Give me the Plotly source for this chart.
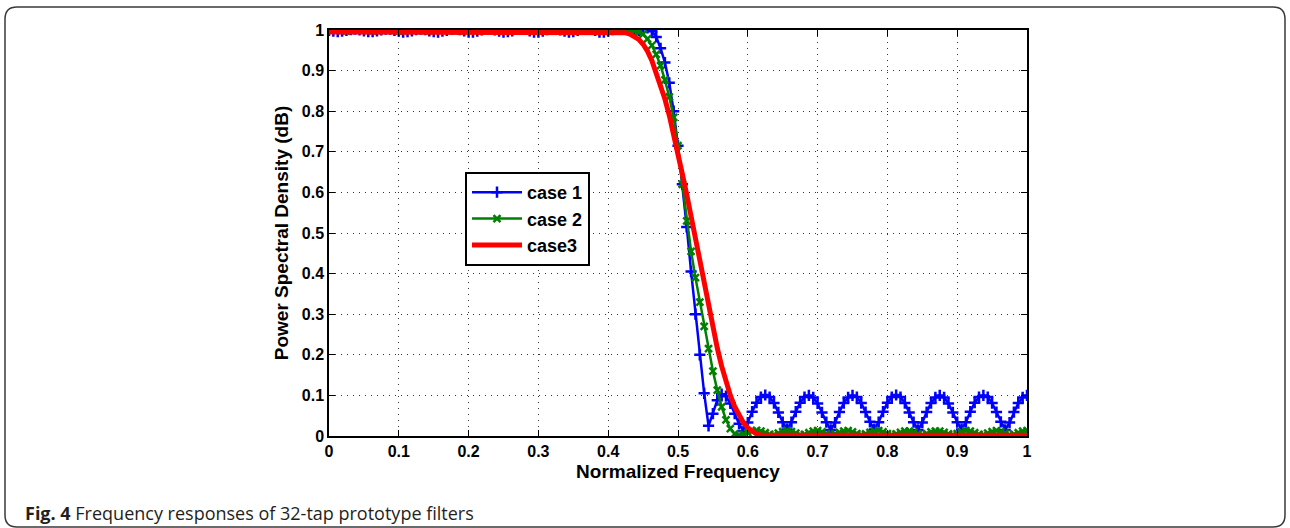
import plotly.graph_objects as go

# ---------------- data ----------------
N_SAMPLES = 161
FREQ = [i / (N_SAMPLES - 1) for i in range(N_SAMPLES)]  # normalized frequency sampling grid

CASE1 = [
    0.999, 0.997, 0.996, 0.997, 0.999, 1.001, 1.002, 1.000, 0.998, 0.996,
    0.996, 0.998, 1.000, 1.002, 1.002, 0.999, 0.997, 0.995, 0.996, 0.998,
    1.001, 1.002, 1.001, 0.998, 0.996, 0.995, 0.997, 0.999, 1.002, 1.003,
    1.001, 0.998, 0.995, 0.995, 0.997, 1.000, 1.003, 1.003, 1.000, 0.997,
    0.995, 0.996, 0.998, 1.002, 1.003, 1.002, 0.998, 0.995, 0.995, 0.997,
    1.001, 1.003, 1.003, 1.000, 0.997, 0.995, 0.996, 0.999, 1.003, 1.004,
    1.003, 0.999, 0.995, 0.995, 0.997, 1.001, 1.004, 1.005, 1.003, 0.999,
    0.997, 0.999, 1.003, 1.005, 0.997, 0.983, 0.955, 0.920, 0.870, 0.800,
    0.715, 0.620, 0.515, 0.405, 0.300, 0.200, 0.105, 0.025,
    0.055, 0.088, 0.103, 0.098, 0.080, 0.055, 0.030, 0.012,
    0.033, 0.060, 0.082, 0.096, 0.101, 0.096, 0.081, 0.058, 0.034, 0.016,
    0.034, 0.060, 0.082, 0.096, 0.100, 0.095, 0.080, 0.058, 0.034, 0.015,
    0.033, 0.059, 0.081, 0.095, 0.100, 0.096, 0.081, 0.059, 0.035, 0.016,
    0.034, 0.060, 0.082, 0.096, 0.101, 0.096, 0.081, 0.058, 0.034, 0.015,
    0.033, 0.059, 0.081, 0.095, 0.100, 0.095, 0.080, 0.058, 0.034, 0.016,
    0.034, 0.060, 0.082, 0.096, 0.100, 0.096, 0.081, 0.059, 0.035, 0.015,
    0.033, 0.059, 0.081, 0.095, 0.100,
]

CASE2 = [
    1.001, 1.002, 1.001, 0.999, 0.998, 0.999, 1.001, 1.002, 1.001, 0.999,
    0.998, 0.999, 1.001, 1.002, 1.002, 1.000, 0.998, 0.998, 1.000, 1.002,
    1.002, 1.001, 0.999, 0.998, 0.999, 1.001, 1.002, 1.002, 1.000, 0.998,
    0.998, 1.000, 1.002, 1.002, 1.001, 0.999, 0.998, 0.999, 1.001, 1.002,
    1.002, 1.000, 0.998, 0.998, 1.000, 1.002, 1.003, 1.001, 0.999, 0.998,
    0.999, 1.001, 1.003, 1.002, 1.000, 0.998, 0.998, 1.000, 1.002, 1.003,
    1.002, 0.999, 0.998, 0.999, 1.001, 1.003, 1.003, 1.002, 1.000, 0.999,
    0.998, 0.995, 0.990, 0.978, 0.962, 0.940, 0.912, 0.877, 0.835, 0.785,
    0.715, 0.620, 0.530, 0.455, 0.390, 0.330, 0.270, 0.215, 0.160, 0.113,
    0.072, 0.040, 0.018, 0.005,
    0.002, 0.004, 0.008, 0.012, 0.014, 0.012, 0.008, 0.004, 0.003, 0.007,
    0.011, 0.013, 0.011, 0.007, 0.003, 0.004, 0.008, 0.012, 0.013, 0.010,
    0.006, 0.003, 0.005, 0.009, 0.012, 0.013, 0.010, 0.006, 0.003, 0.005,
    0.009, 0.012, 0.013, 0.010, 0.006, 0.003, 0.005, 0.009, 0.012, 0.012,
    0.009, 0.005, 0.003, 0.006, 0.010, 0.012, 0.012, 0.009, 0.005, 0.003,
    0.006, 0.010, 0.013, 0.012, 0.008, 0.004, 0.003, 0.007, 0.011, 0.013,
    0.011, 0.007, 0.003, 0.004, 0.008, 0.012, 0.013,
]

CASE3 = [
    0.995, 0.995, 0.995, 0.995, 0.995, 0.995, 0.995, 0.995, 0.995, 0.995,
    0.995, 0.995, 0.995, 0.995, 0.995, 0.995, 0.995, 0.995, 0.995, 0.995,
    0.995, 0.995, 0.995, 0.995, 0.995, 0.995, 0.995, 0.995, 0.995, 0.995,
    0.995, 0.995, 0.995, 0.995, 0.995, 0.995, 0.995, 0.995, 0.995, 0.995,
    0.995, 0.995, 0.995, 0.995, 0.995, 0.995, 0.995, 0.995, 0.995, 0.995,
    0.995, 0.995, 0.995, 0.995, 0.995, 0.995, 0.995, 0.995, 0.995, 0.995,
    0.995, 0.995, 0.995, 0.995, 0.995, 0.995, 0.995, 0.995,
    0.993, 0.990, 0.985, 0.977, 0.965, 0.948, 0.925, 0.895, 0.865, 0.830,
    0.790, 0.745, 0.695, 0.645, 0.595, 0.540, 0.485, 0.430, 0.375, 0.320,
    0.267, 0.217, 0.172, 0.132, 0.100, 0.072, 0.050, 0.033, 0.020, 0.011,
    0.005, 0.002,
    0.002, 0.002, 0.002, 0.002, 0.002, 0.002, 0.002, 0.002, 0.002, 0.002,
    0.002, 0.002, 0.002, 0.002, 0.002, 0.002, 0.002, 0.002, 0.002, 0.002,
    0.002, 0.002, 0.002, 0.002, 0.002, 0.002, 0.002, 0.002, 0.002, 0.002,
    0.002, 0.002, 0.002, 0.002, 0.002, 0.002, 0.002, 0.002, 0.002, 0.002,
    0.002, 0.002, 0.002, 0.002, 0.002, 0.002, 0.002, 0.002, 0.002, 0.002,
    0.002, 0.002, 0.002, 0.002, 0.002, 0.002, 0.002, 0.002, 0.002, 0.002,
    0.002,
]

SERIES_NAMES = ["case 1", "case 2", "case3"]
X_TITLE = "Normalized Frequency"
Y_TITLE = "Power Spectral Density (dB)"
CAPTION_BOLD = "Fig. 4"
CAPTION_TEXT = "Frequency responses of 32-tap prototype filters"

# ---------------- layout geometry (pixels) ----------------
W, H = 1290, 528
PL, PR, PT, PB = 329, 1027, 30, 436  # plot area edges
PW, PH = PR - PL, PB - PT


def px_x(px):
    return (px - PL) / PW


def px_y(py):
    return (PB - py) / PH


FONT = "Liberation Sans, Arial, Helvetica, sans-serif"

fig = go.Figure()
fig.add_trace(go.Scatter(
    x=FREQ, y=CASE1, name=SERIES_NAMES[0], mode="lines+markers",
    line=dict(color="#0000FF", width=2.5),
    marker=dict(symbol="cross-thin", size=8, color="#0000FF",
                line=dict(color="#0000FF", width=2.5)),
))
fig.add_trace(go.Scatter(
    x=FREQ, y=CASE2, name=SERIES_NAMES[1], mode="lines+markers",
    line=dict(color="#008000", width=2.5),
    marker=dict(symbol="x-thin", size=7, color="#008000",
                line=dict(color="#008000", width=2.5)),
))
fig.add_trace(go.Scatter(
    x=FREQ, y=CASE3, name=SERIES_NAMES[2], mode="lines",
    line=dict(color="#FF0000", width=5),
))

axis_common = dict(
    range=[0, 1], tick0=0, dtick=0.1,
    showline=True, linecolor="black", linewidth=1.5, mirror="ticks",
    ticks="inside", ticklen=6, tickwidth=1, tickcolor="black",
    showgrid=True, gridcolor="#333333", gridwidth=1, griddash="1px,5px",
    zeroline=False, automargin=False,
    tickfont=dict(family=FONT, size=16, color="black", weight="bold"),
)

fig.update_xaxes(**axis_common,
                 title=dict(text=X_TITLE, standoff=6,
                            font=dict(family=FONT, size=19, color="black", weight="bold")))
fig.update_yaxes(**axis_common,
                 title=dict(text=Y_TITLE, standoff=8,
                            font=dict(family=FONT, size=19, color="black", weight="bold")))

# outer rounded frame
x0, x1 = px_x(5), px_x(1285)
y0, y1 = px_y(527), px_y(7)
dx, dy = 12 / PW, 12 / PH
frame_path = (
    f"M {x0+dx},{y1} L {x1-dx},{y1} Q {x1},{y1} {x1},{y1-dy} "
    f"L {x1},{y0+dy} Q {x1},{y0} {x1-dx},{y0} "
    f"L {x0+dx},{y0} Q {x0},{y0} {x0},{y0+dy} "
    f"L {x0},{y1-dy} Q {x0},{y1} {x0+dx},{y1} Z"
)

fig.update_layout(
    width=W, height=H,
    margin=dict(l=PL, r=W - PR, t=PT, b=H - PB, pad=0),
    paper_bgcolor="white", plot_bgcolor="white",
    showlegend=True,
    legend=dict(
        x=px_x(465), y=px_y(172), xanchor="left", yanchor="top",
        bgcolor="white", bordercolor="black", borderwidth=2,
        font=dict(family=FONT, size=18, color="black", weight="bold"),
        itemwidth=50, tracegroupgap=2,
    ),
    shapes=[dict(type="path", xref="paper", yref="paper", path=frame_path,
                 line=dict(color="#3a3a3a", width=1.5), layer="below")],
    annotations=[dict(
        xref="paper", yref="paper", x=px_x(23), y=px_y(513),
        xanchor="left", yanchor="middle", showarrow=False,
        text=f"<b>{CAPTION_BOLD}</b> {CAPTION_TEXT}",
        font=dict(family="Open Sans, Noto Sans, sans-serif", size=18, color="#231f20"),
    )],
)

fig.write_html("out.html")
